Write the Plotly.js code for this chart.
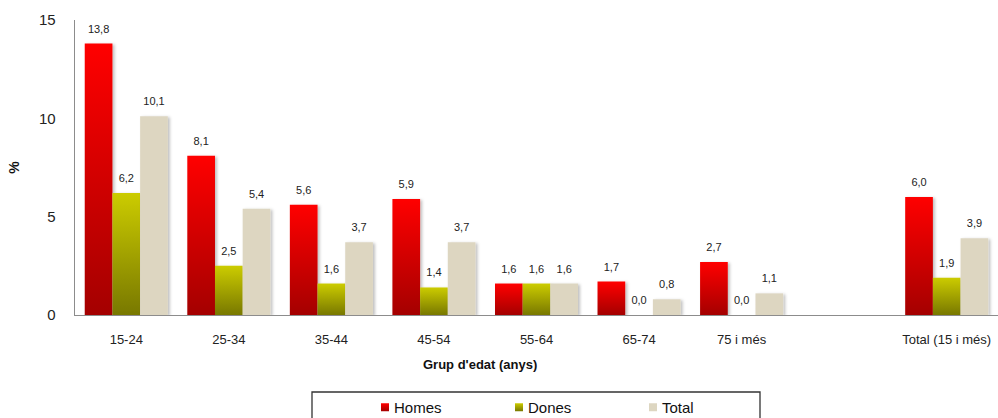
<!DOCTYPE html>
<html>
<head>
<meta charset="utf-8">
<script src="https://cdn.plot.ly/plotly-3.0.1.min.js"></script>
<style>
html,body{margin:0;padding:0;background:#fff;}
#chart{width:998px;height:418px;}
</style>
</head>
<body>
<div id="chart"></div>
<script>
// ---- data ----
const ageGroups = ['15-24','25-34','35-44','45-54','55-64','65-74','75 i més'];
const totalLabel = 'Total (15 i més)';
const categories = ageGroups.concat([totalLabel]);
const homes  = [13.8, 8.1, 5.6, 5.9, 1.6, 1.7, 2.7, 6.0];
const dones  = [6.2, 2.5, 1.6, 1.4, 1.6, 0.0, 0.0, 1.9];
const total  = [10.1, 5.4, 3.7, 3.7, 1.6, 0.8, 1.1, 3.9];
const seriesNames = ['Homes','Dones','Total'];
const yTicks = [0, 5, 10, 15];

// axis slots: age groups, an empty gap slot, then the total
const axisCategories = ageGroups.concat([' ', totalLabel]);

const FONT = 'Liberation Sans, Arial, sans-serif';
const colors = ['#d00000', '#a8a800', '#ddd6c1'];

function barTrace(name, values, color) {
  return {
    type: 'bar', name: name, x: categories, y: values,
    marker: {color: color, line: {width: 0}},
    texttemplate: '%{y:.1f}', textposition: 'outside', cliponaxis: false,
    textfont: {family: FONT, size: 11, color: '#222'},
    hoverinfo: 'none'
  };
}

const data = [
  barTrace(seriesNames[0], homes, colors[0]),
  barTrace(seriesNames[1], dones, colors[1]),
  barTrace(seriesNames[2], total, colors[2])
];

const L = 75, R = 0, T = 20, B = 103;
const W = 998, H = 418;
const pw = W - L - R, ph = H - T - B;
const px = v => (v - L) / pw;
const py = v => (H - B - v) / ph;

const layout = {
  width: W, height: H,
  margin: {l: L, r: R, t: T, b: B, pad: 0, autoexpand: false},
  paper_bgcolor: '#fff', plot_bgcolor: '#fff',
  separators: ',.',
  font: {family: FONT, size: 13, color: '#222'},
  barmode: 'group', bargap: 0.19, bargroupgap: 0,
  showlegend: true,
  legend: {
    orientation: 'h', xref: 'container', yref: 'container',
    x: 365 / W, xanchor: 'left', y: 1 - 391 / H, yanchor: 'top',
    font: {family: FONT, size: 15, color: '#111'},
    entrywidth: 89, entrywidthmode: 'pixels',
    bgcolor: 'rgba(0,0,0,0)', borderwidth: 0, traceorder: 'normal'
  },
  xaxis: {
    type: 'category', categoryorder: 'array', categoryarray: axisCategories,
    range: [-0.5, axisCategories.length - 0.5],
    showline: true, linecolor: '#8c8c8c', linewidth: 1.3,
    showgrid: false, zeroline: false, ticks: '',
    ticklabelstandoff: 12,
    tickfont: {family: FONT, size: 13, color: '#222'}
  },
  yaxis: {
    range: [0, 15], tickvals: yTicks, ticktext: yTicks.map(String),
    showline: true, linecolor: '#8c8c8c', linewidth: 1.3,
    showgrid: false, zeroline: false, ticks: '',
    ticklabelstandoff: 15,
    tickfont: {family: FONT, size: 15, color: '#222'},
    title: {text: '%', font: {family: FONT, size: 14, color: '#111', weight: 'bold'}, standoff: 16}
  },
  annotations: [{
    text: "<b>Grup d'edat (anys)</b>", xref: 'paper', yref: 'paper',
    x: px(480), y: py(364), xanchor: 'center', yanchor: 'middle', showarrow: false,
    font: {family: FONT, size: 13, color: '#111'}
  }],
  shapes: [{
    type: 'rect', xref: 'paper', yref: 'paper',
    x0: px(312), x1: px(760), y0: py(392), y1: py(430),
    line: {color: '#333', width: 1.3}, fillcolor: 'rgba(0,0,0,0)'
  }]
};

const gd = document.getElementById('chart');
Plotly.newPlot(gd, data, layout, {staticPlot: true, displayModeBar: false}).then(() => {
  const NS = 'http://www.w3.org/2000/svg';
  const svg = gd.querySelector('svg.main-svg');
  let defs = svg.querySelector('defs');
  if (!defs) { defs = document.createElementNS(NS, 'defs'); svg.insertBefore(defs, svg.firstChild); }
  const grads = [
    ['gHomes', '#ff0000', '#a40000'],
    ['gDones', '#cccc00', '#787800'],
    ['gTotal', '#ddd6c1', '#ddd6c1']
  ];
  grads.forEach(([id, c1, c2]) => {
    const g = document.createElementNS(NS, 'linearGradient');
    g.setAttribute('id', id);
    g.setAttribute('x1', '0'); g.setAttribute('y1', '0');
    g.setAttribute('x2', '0'); g.setAttribute('y2', '1');
    [[0, c1], [1, c2]].forEach(([o, c]) => {
      const s = document.createElementNS(NS, 'stop');
      s.setAttribute('offset', o); s.setAttribute('stop-color', c);
      g.appendChild(s);
    });
    defs.appendChild(g);
  });
  const f = document.createElementNS(NS, 'filter');
  f.setAttribute('id', 'shadow');
  f.setAttribute('x', '-20%'); f.setAttribute('y', '-20%');
  f.setAttribute('width', '150%'); f.setAttribute('height', '140%');
  const ds = document.createElementNS(NS, 'feDropShadow');
  ds.setAttribute('dx', '2'); ds.setAttribute('dy', '1');
  ds.setAttribute('stdDeviation', '1.5'); ds.setAttribute('flood-opacity', '0.25');
  f.appendChild(ds); defs.appendChild(f);

  const traces = gd.querySelectorAll('.barlayer .trace');
  traces.forEach((t, i) => {
    t.querySelectorAll('.point path').forEach(p => {
      p.style.fill = 'url(#' + grads[i][0] + ')';
      p.style.filter = 'url(#shadow)';
    });
    t.querySelectorAll('.point text').forEach(tx => {
      const tr = tx.getAttribute('transform') || '';
      tx.setAttribute('transform', 'translate(0,-6) ' + tr);
    });
  });
  const leg = gd.querySelectorAll('.legend .traces');
  leg.forEach((t, i) => {
    t.querySelectorAll('.legendpoints path').forEach(p => {
      p.setAttribute('d', 'M4,4H-4V-4H4Z');
      p.style.fill = 'url(#' + grads[i][0] + ')';
      p.style.stroke = 'none';
    });
    t.querySelectorAll('text.legendtext').forEach(tx => {
      const x = parseFloat(tx.getAttribute('x') || '0');
      tx.setAttribute('x', x - 11);
    });
  });
});
</script>
</body>
</html>
